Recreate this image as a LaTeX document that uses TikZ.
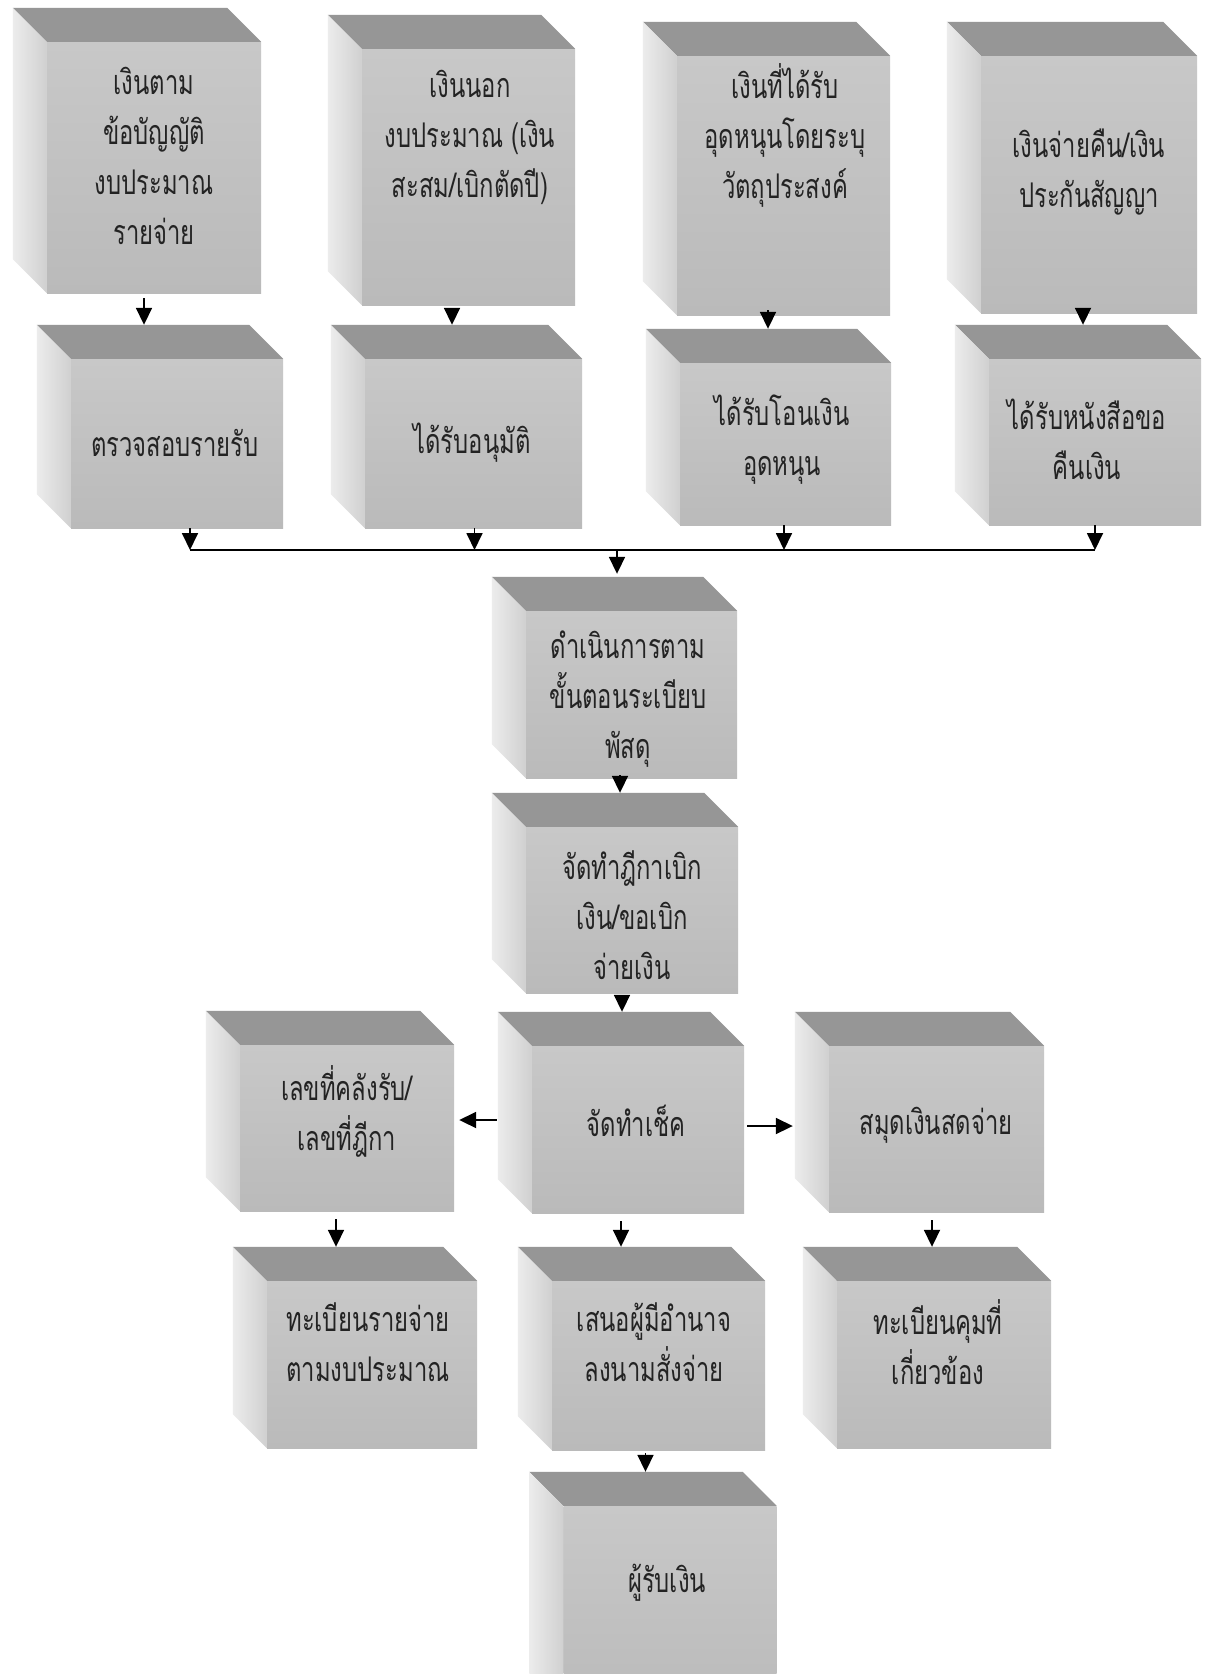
\documentclass[tikz,border=0pt]{standalone}
\usepackage{fontspec}
\newfontfamily\thaifont[Script=Thai, FakeStretch=0.7]{Loma}
\usetikzlibrary{arrows.meta}
\definecolor{facefrontA}{RGB}{200,200,200}
\definecolor{facefrontB}{RGB}{186,186,186}
\definecolor{facetop}{RGB}{150,150,150}
\definecolor{faceleftA}{RGB}{236,236,236}
\definecolor{faceleftB}{RGB}{208,208,208}
\definecolor{inkgray}{RGB}{35,35,35}

\begin{document}
\begin{tikzpicture}[x=1pt,y=-1pt,
  frontface/.style={rectangle, inner sep=0pt, top color=facefrontA, bottom color=facefrontB},
  topface/.style={fill=facetop},
  leftface/.style={left color=faceleftA, right color=faceleftB},
  txt/.style={font=\thaifont\fontsize{34}{50}\selectfont, text=inkgray, align=center, inner sep=0pt},
  arr/.style={draw=black, line width=1.8pt, -{Triangle[length=17pt,width=16pt]}},
  link/.style={draw=black, line width=1.8pt},
]
\useasboundingbox (0,0) rectangle (1219,1674);
\fill[white] (0,0) rectangle (1219,1674);
\clip (0,0) rectangle (1219,1674);

% front faces of the boxes
\node[frontface, minimum width=214, minimum height=251] (a1) at (154,167.5) {};
\node[frontface, minimum width=213, minimum height=256] (a2) at (468.5,177) {};
\node[frontface, minimum width=213, minimum height=259] (a3) at (783.5,185.5) {};
\node[frontface, minimum width=216, minimum height=257] (a4) at (1089,184.5) {};
\node[frontface, minimum width=212, minimum height=169] (b1) at (177,443.5) {};
\node[frontface, minimum width=217, minimum height=169] (b2) at (473.5,443.5) {};
\node[frontface, minimum width=211, minimum height=162] (b3) at (785.5,444) {};
\node[frontface, minimum width=212, minimum height=166] (b4) at (1095,442) {};
\node[frontface, minimum width=211, minimum height=167] (c1) at (631.5,694.5) {};
\node[frontface, minimum width=212, minimum height=166] (c2) at (632,910) {};
\node[frontface, minimum width=212, minimum height=167] (c3) at (638,1129.5) {};
\node[frontface, minimum width=214, minimum height=166] (l1) at (347,1128) {};
\node[frontface, minimum width=215, minimum height=166] (r1) at (936.5,1129) {};
\node[frontface, minimum width=210, minimum height=167] (l2) at (372,1364.5) {};
\node[frontface, minimum width=213, minimum height=169] (c4) at (658.5,1365.5) {};
\node[frontface, minimum width=214, minimum height=167] (r2) at (944,1364.5) {};
\node[frontface, minimum width=213, minimum height=210] (c5) at (670,1611) {};

% top and left faces, receding up and to the left
\foreach \n in {a1,a2,a3,a4,b1,b2,b3,b4,c1,c2,c3,l1,r1,l2,c4,r2,c5}{
  \fill[topface] (\n.north west) -- ++(-34,-34) -- ([shift={(-34,-34)}]\n.north east) -- (\n.north east) -- cycle;
  \shade[leftface] (\n.north west) -- ++(-34,-34) -- ([shift={(-34,-34)}]\n.south west) -- (\n.south west) -- cycle;
}

% texts
\node[txt] (a1t) at (154,156) {เงินตาม\\ข้อบัญญัติ\\งบประมาณ\\รายจ่าย};
\node[txt] (a2t) at (470,137) {เงินนอก\\งบประมาณ (เงิน\\สะสม/เบิกตัดปี)};
\node[txt] (a3t) at (785,135) {เงินที่ได้รับ\\อุดหนุนโดยระบุ\\วัตถุประสงค์};
\node[txt] (a4t) at (1089,172) {เงินจ่ายคืน/เงิน\\ประกันสัญญา};
\node[txt] (b1t) at (175,443) {ตรวจสอบรายรับ};
\node[txt] (b2t) at (472,443) {ได้รับอนุมัติ};
\node[txt] (b3t) at (782,440) {ได้รับโอนเงิน\\อุดหนุน};
\node[txt] (b4t) at (1087,439) {ได้รับหนังสือขอ\\คืนเงิน};
\node[txt] (c1t) at (628,699) {ดำเนินการตาม\\ขั้นตอนระเบียบ\\พัสดุ};
\node[txt] (c2t) at (632,915) {จัดทำฎีกาเบิก\\เงิน/ขอเบิก\\จ่ายเงิน};
\node[txt] (l1t) at (347,1111) {เลขที่คลังรับ/\\เลขที่ฎีกา};
\node[txt] (c3t) at (636,1121) {จัดทำเช็ค};
\node[txt] (r1t) at (936,1125) {สมุดเงินสดจ่าย};
\node[txt] (l2t) at (368,1342) {ทะเบียนรายจ่าย\\ตามงบประมาณ};
\node[txt] (c4t) at (654,1342) {เสนอผู้มีอำนาจ\\ลงนามสั่งจ่าย};
\node[txt] (r2t) at (938,1342) {ทะเบียนคุมที่\\เกี่ยวข้อง};
\node[txt] (c5t) at (667,1583) {ผู้รับเงิน};

% first row down to the second row
\draw[arr, shorten <=5pt] ([xshift=-10pt]a1.south) -- ([xshift=-10pt,yshift=34pt]a1.south |- b1.north);
\draw[arr, shorten <=5pt] ([xshift=-16.5pt]a2.south) -- ([xshift=-16.5pt,yshift=34pt]a2.south |- b2.north);
\draw[arr, shorten <=5pt] ([xshift=-15.5pt]a3.south) -- ([xshift=-15.5pt,yshift=34pt]a3.south |- b3.north);
\draw[arr, shorten <=5pt] ([xshift=-6pt]a4.south) -- ([xshift=-6pt,yshift=34pt]a4.south |- b4.north);

% second row merging into one line
\coordinate (join) at (617,550);
\draw[arr] ([xshift=13pt]b1.south) -- ([xshift=13pt]b1.south |- join);
\draw[arr] ([xshift=1pt]b2.south) -- ([xshift=1pt]b2.south |- join);
\draw[arr] ([xshift=-1.5pt]b3.south) -- ([xshift=-1.5pt]b3.south |- join);
\draw[arr] (b4.south) -- (b4.south |- join);
\draw[link] ([xshift=13pt]b1.south |- join) -- (b4.south |- join);
\draw[arr, shorten >=3pt] (join) -- ([yshift=34pt]join |- c1.north);

% central column
\draw[arr, shorten <=3pt] ([xshift=-11.5pt]c1.south) -- ([xshift=-11.5pt,yshift=34pt]c1.south |- c2.north);
\draw[arr, shorten <=3pt] ([xshift=-10pt]c2.south) -- ([xshift=-10pt,yshift=34pt]c2.south |- c3.north);
\draw[arr] ([xshift=-35pt,yshift=9.5pt]c3.west) -- ([xshift=5pt,yshift=9.5pt]c3.west -| l1.east);
\draw[arr] ([xshift=3pt,yshift=3.5pt]c3.east) -- ([xshift=-36pt,yshift=3.5pt]c3.east -| r1.west);

% third row down to the fourth row
\draw[arr, shorten <=8pt] ([xshift=-11pt]l1.south) -- ([xshift=-11pt,yshift=34pt]l1.south |- l2.north);
\draw[arr, shorten <=8pt] ([xshift=-17pt]c3.south) -- ([xshift=-17pt,yshift=34pt]c3.south |- c4.north);
\draw[arr, shorten <=8pt] ([xshift=-4.5pt]r1.south) -- ([xshift=-4.5pt,yshift=34pt]r1.south |- r2.north);
\draw[arr, shorten <=3pt] ([xshift=-13pt]c4.south) -- ([xshift=-13pt,yshift=34pt]c4.south |- c5.north);
\end{tikzpicture}
\end{document}
